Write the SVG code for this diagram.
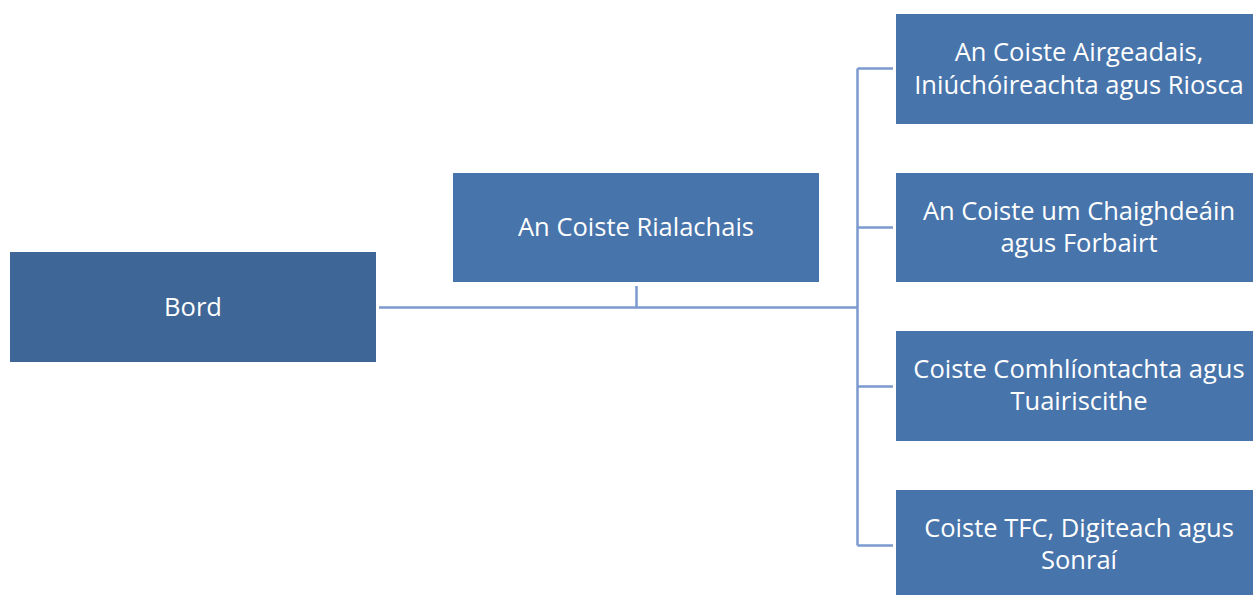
<svg xmlns="http://www.w3.org/2000/svg" width="1253" height="595" viewBox="0 0 1253 595">
<style>
.box{fill:#4774aa}
.dark{fill:#3e6696}
.t{font-family:"Open Sans","Liberation Sans",sans-serif;font-size:25.5px;fill:#ffffff;text-anchor:middle}
.c{stroke:#7b9bd0;stroke-width:2.5;fill:none}
</style>
<rect width="1253" height="595" fill="#ffffff"/>
<g id="connectors">
<path class="c" d="M379 307.5H857.5M636.5 286V307.5M857.5 68.5V545.5M857.5 68.5H893M857.5 227.5H893M857.5 386.5H893M857.5 545.5H893"/>
</g>
<g id="bord">
<rect class="dark" x="10" y="252" width="366" height="110"/>
<text class="t" x="193" y="316">Bord</text>
</g>
<g id="rialachais">
<rect class="box" x="453" y="173" width="366" height="109"/>
<text class="t" x="636" y="236">An Coiste Rialachais</text>
</g>
<g id="airgeadais">
<rect class="box" x="896" y="14" width="357" height="110"/>
<text class="t" x="1079" y="61">An Coiste Airgeadais,</text>
<text class="t" x="1079" y="94">Iniúchóireachta agus Riosca</text>
</g>
<g id="chaighdeain">
<rect class="box" x="896" y="173" width="357" height="109"/>
<text class="t" x="1079" y="220">An Coiste um Chaighdeáin</text>
<text class="t" x="1079" y="252">agus Forbairt</text>
</g>
<g id="comhliontachta">
<rect class="box" x="896" y="331" width="357" height="110"/>
<text class="t" x="1079" y="378">Coiste Comhlíontachta agus</text>
<text class="t" x="1079" y="410">Tuairiscithe</text>
</g>
<g id="tfc">
<rect class="box" x="896" y="490" width="357" height="110"/>
<text class="t" x="1079" y="537">Coiste TFC, Digiteach agus</text>
<text class="t" x="1079" y="569">Sonraí</text>
</g>
</svg>
